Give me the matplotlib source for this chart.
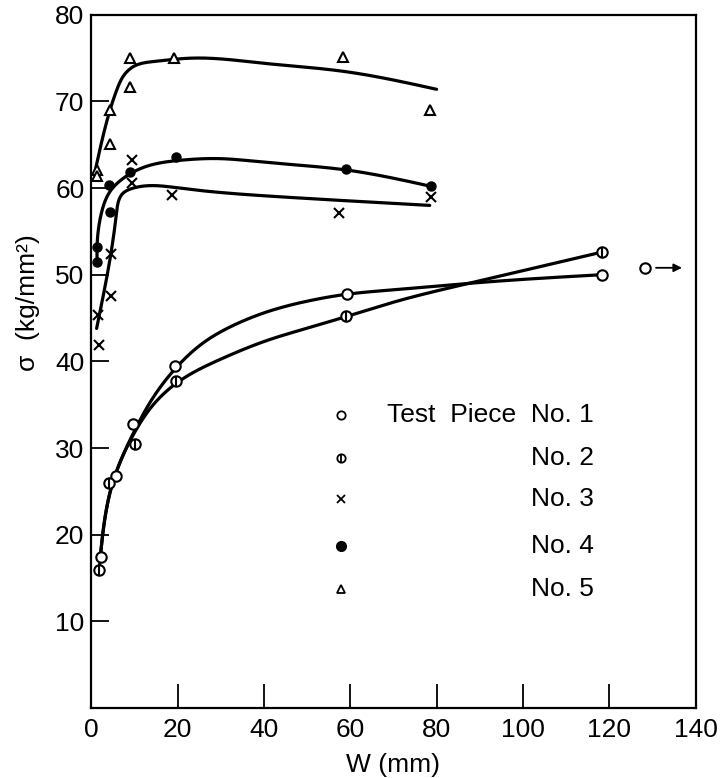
import numpy as np
import matplotlib
matplotlib.use("Agg")
import matplotlib.pyplot as plt

# measured points, W (mm) vs sigma (kg/mm2)
w1 = [2.1, 5.7, 9.7, 19.4, 59.2, 118.4]
s1 = [17.4, 26.8, 32.8, 39.5, 47.8, 50.0]
w1_off = [128.4]
s1_off = [50.8]

w2 = [1.8, 4.0, 10.0, 19.7, 58.9, 118.4]
s2 = [15.9, 26.0, 30.5, 37.7, 45.2, 52.6]

w3 = [1.6, 1.8, 4.5, 4.5, 9.3, 9.3, 18.7, 57.4, 78.6]
s3 = [45.3, 41.9, 47.6, 52.4, 60.6, 63.2, 59.2, 57.1, 59.0]

w4 = [1.2, 1.3, 4.0, 4.3, 9.0, 19.5, 58.9, 78.7]
s4 = [53.2, 51.5, 60.4, 57.2, 61.8, 63.6, 62.2, 60.2]

w5 = [1.3, 1.3, 4.2, 4.2, 8.9, 9.0, 19.1, 58.4, 78.5]
s5 = [62.1, 61.4, 65.1, 69.0, 75.0, 71.7, 75.0, 75.1, 69.0]

c1_w = [2.0, 3.0, 4.7, 7.0, 10.0, 14.0, 19.5, 25.8, 33.5, 41.2, 50.5, 59.2, 71.2, 87.4, 118.2]
c1_s = [17.2, 21.5, 25.6, 28.8, 32.0, 35.6, 39.2, 42.1, 44.3, 45.8, 47.0, 47.75, 48.3, 49.0, 50.0]
c2_w = [1.8, 3.0, 4.7, 7.0, 10.0, 14.0, 20.3, 29.7, 41.2, 51.2, 59.2, 71.2, 87.4, 118.2]
c2_s = [16.0, 21.5, 25.6, 28.8, 31.8, 34.8, 37.7, 40.2, 42.5, 44.0, 45.2, 47.0, 49.0, 52.6]
c3_w = [1.2, 4.5, 5.8, 7.3, 9.7, 20.4, 43.5, 71.2, 78.4]
c3_s = [43.8, 52.4, 57.1, 59.4, 60.0, 60.0, 59.0, 58.2, 58.0]
c4_w = [1.3, 1.3, 2.3, 4.3, 7.3, 12.7, 20.4, 29.7, 39.7, 58.9, 78.7]
c4_s = [51.5, 53.2, 57.1, 59.6, 61.1, 62.5, 63.2, 63.4, 63.0, 62.1, 60.2]
c5_w = [1.0, 4.3, 6.0, 7.5, 10.0, 14.3, 23.4, 40.0, 58.0, 80.0]
c5_s = [62.3, 69.0, 71.5, 73.0, 74.1, 74.6, 75.0, 74.4, 73.5, 71.4]

x_ticks = [0, 20, 40, 60, 80, 100, 120, 140]
y_ticks = [10, 20, 30, 40, 50, 60, 70, 80]
legend_labels = ["Test  Piece  No. 1", "No. 2", "No. 3", "No. 4", "No. 5"]


def natural_spline(t, y, tt):
    n = len(t)
    h = np.diff(t)
    A = np.zeros((n, n))
    rhs = np.zeros(n)
    A[0, 0] = A[-1, -1] = 1
    for i in range(1, n - 1):
        A[i, i - 1] = h[i - 1]
        A[i, i] = 2 * (h[i - 1] + h[i])
        A[i, i + 1] = h[i]
        rhs[i] = 6 * ((y[i + 1] - y[i]) / h[i] - (y[i] - y[i - 1]) / h[i - 1])
    M = np.linalg.solve(A, rhs)
    idx = np.clip(np.searchsorted(t, tt) - 1, 0, n - 2)
    hh = h[idx]
    a = (t[idx + 1] - tt) / hh
    b = (tt - t[idx]) / hh
    return a * y[idx] + b * y[idx + 1] + ((a ** 3 - a) * M[idx] + (b ** 3 - b) * M[idx + 1]) * hh ** 2 / 6


def smooth(xs, ys, n=400):
    # parametric spline, chord length measured in screen-ish units
    x = np.asarray(xs, float)
    y = np.asarray(ys, float)
    d = np.hypot(np.diff(x) * 4.33, np.diff(y) * 8.67)
    t = np.concatenate([[0], np.cumsum(d)])
    tt = np.linspace(0, t[-1], n)
    return natural_spline(t, x, tt), natural_spline(t, y, tt)


plt.rcParams["font.family"] = ["Liberation Sans", "DejaVu Sans"]
fs = 19
fig = plt.figure(figsize=(7.2, 7.78), dpi=100)
ax = fig.add_axes([0.127, 0.09, 0.839, 0.891])

for cw, cs in [(c1_w, c1_s), (c2_w, c2_s), (c3_w, c3_s), (c4_w, c4_s), (c5_w, c5_s)]:
    xx, yy = smooth(cw, cs)
    ax.plot(xx, yy, color="black", lw=2.3, solid_capstyle="round", zorder=2)

ms = 7.5
ax.plot(w1, s1, "o", ms=ms, mfc="white", mec="black", mew=1.5, zorder=3)
ax.plot(w1_off, s1_off, "o", ms=ms, mfc="white", mec="black", mew=1.5, zorder=3)
ax.annotate("", xy=(137.5, s1_off[0]), xytext=(130.2, s1_off[0]),
            arrowprops=dict(arrowstyle="-|>", color="black", lw=1.3, mutation_scale=12))
ax.plot(w2, s2, "o", ms=ms, mfc="white", mec="black", mew=1.5, zorder=3)
ax.plot(w2, s2, "|", ms=ms, color="black", mew=1.5, zorder=4)
ax.plot(w3, s3, "x", ms=6.5, color="black", mew=1.5, zorder=3)
ax.plot(w4, s4, "o", ms=6.5, color="black", zorder=3)
ax.plot(w5, s5, "^", ms=6.5, mfc="white", mec="black", mew=1.5, zorder=3)

# legend drawn by hand
rows = [0.423, 0.361, 0.301, 0.233, 0.171]
mx = 0.413
tr = ax.transAxes
ax.plot([mx], [rows[0]], "o", ms=6, mfc="white", mec="black", mew=1.3, transform=tr)
ax.plot([mx], [rows[1]], "o", ms=6, mfc="white", mec="black", mew=1.3, transform=tr)
ax.plot([mx], [rows[1]], "|", ms=6, color="black", mew=1.3, transform=tr)
ax.plot([mx], [rows[2]], "x", ms=6, color="black", mew=1.3, transform=tr)
ax.plot([mx], [rows[3]], "o", ms=7, color="black", transform=tr)
ax.plot([mx], [rows[4]], "^", ms=6, mfc="white", mec="black", mew=1.3, transform=tr)
ax.text(0.49, rows[0], legend_labels[0], transform=tr, fontsize=fs, va="center", ha="left")
for r, lab in zip(rows[1:], legend_labels[1:]):
    ax.text(0.832, r, lab, transform=tr, fontsize=fs, va="center", ha="right")

ax.set_xlim(0, 140)
ax.set_ylim(0, 80)
ax.set_xticks(x_ticks)
ax.set_yticks(y_ticks)
ax.tick_params(axis="x", direction="in", length=17, width=1.3, labelsize=fs, pad=7,
               top=False)
ax.tick_params(axis="y", direction="in", length=13, width=1.3, labelsize=fs, pad=5,
               right=False)
for sp in ax.spines.values():
    sp.set_linewidth(1.6)
ax.set_xlabel("W (mm)", fontsize=fs, labelpad=8)
fig.text(28 / 720, 1 - 303 / 778, "σ  (kg/mm²)", fontsize=fs, rotation=90,
         ha="center", va="center")

fig.savefig("out.png", dpi=100)
